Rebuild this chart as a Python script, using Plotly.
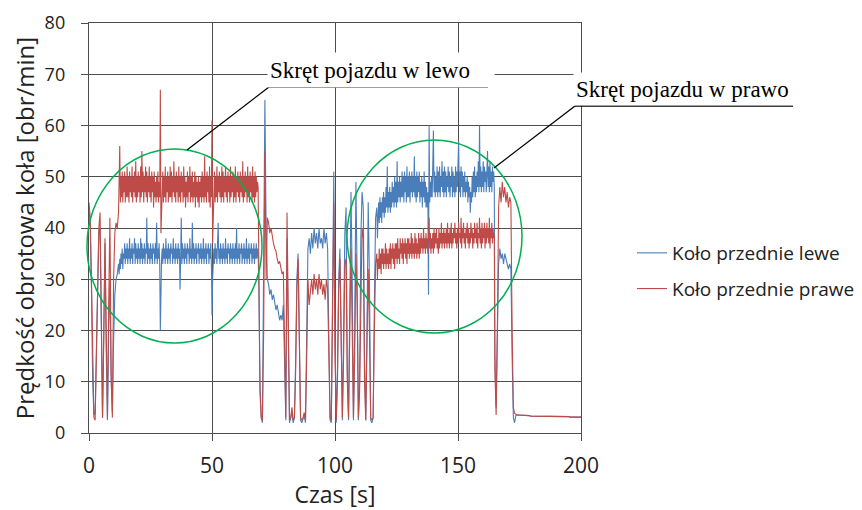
import plotly.graph_objects as go

# ---------------- data ----------------
# Each block: start time [s], sampling step [s], values. Blue = left wheel, red = right wheel.
START_T0, START_STEP = 0.0, 0.5
red_start = [45, 42, 30, 12, 3, 2.5, 14, 30, 40, 43, 22, 3, 18, 38, 20, 3, 25, 42, 12, 3, 30, 39, 41, 40, 43]
blue_start = [44, 40, 28, 10, 3.5, 4, 16, 31, 39, 40, 18, 3, 20, 37, 16, 2.5, 20, 30, 10, 4, 18, 27, 30, 31, 33]

LEFT_T0, LEFT_STEP = 12.25, 0.25
red_left_turn = [
    52, 56, 45, 50, 46, 51, 45, 50, 47, 51,
    45, 50, 46, 52, 46, 50, 45, 51, 47, 50,
    46, 52, 45, 50, 47, 51, 46, 53, 45, 50,
    46, 51, 47, 50, 45, 52, 46, 55, 47, 51,
    45, 50, 47, 52, 46, 51, 45, 50, 47, 52,
    46, 50, 45, 51, 47, 50, 44, 51, 46, 49,
    45, 50, 46, 51, 45, 49, 46, 67, 39, 44,
    47, 51, 45, 50, 46, 52, 45, 50, 47, 51,
    45, 50, 46, 52, 46, 51, 45, 50, 47, 53,
    46, 50, 45, 51, 47, 50, 45, 52, 46, 50,
    45, 51, 47, 50, 45, 52, 46, 50, 44, 49,
    46, 51, 45, 50, 47, 52, 45, 50, 46, 51,
    45, 49, 46, 51, 44, 50, 46, 49, 45, 50,
    44, 49, 46, 50, 45, 51, 46, 50, 45, 54,
    46, 50, 45, 51, 47, 50, 45, 52, 44, 50,
    46, 61, 37, 43, 47, 51, 45, 50, 46, 52,
    45, 50, 47, 51, 46, 50, 45, 52, 46, 51,
    45, 50, 47, 52, 46, 50, 45, 51, 47, 50,
    45, 52, 46, 50, 47, 51, 45, 50, 46, 52,
    45, 50, 47, 51, 46, 50, 45, 51, 47, 50,
    46, 53, 45, 50, 46, 51, 47, 50, 45, 52,
    46, 50, 45, 51, 47, 50, 45, 52, 46, 50,
    45, 51, 46, 50, 47, 49, 48]
blue_left_turn = [
    31, 34, 32, 35, 33, 36, 32, 35, 34, 37,
    33, 36, 34, 37, 33, 36, 34, 38, 33, 36,
    34, 37, 33, 36, 35, 38, 33, 37, 34, 36,
    33, 37, 34, 36, 33, 38, 34, 37, 33, 36,
    34, 37, 33, 36, 35, 42, 33, 37, 34, 36,
    33, 37, 34, 36, 33, 37, 35, 36, 33, 37,
    34, 41, 33, 36, 34, 37, 33, 20, 30, 34,
    36, 33, 37, 34, 36, 33, 38, 34, 36, 33,
    37, 34, 36, 33, 37, 35, 36, 33, 38, 34,
    36, 33, 37, 34, 36, 33, 37, 34, 36, 28,
    34, 42, 33, 37, 34, 36, 33, 37, 34, 36,
    33, 37, 35, 36, 33, 38, 34, 36, 33, 41,
    34, 37, 33, 36, 34, 37, 33, 36, 35, 37,
    33, 36, 34, 37, 33, 36, 34, 38, 33, 36,
    34, 37, 33, 36, 35, 37, 33, 36, 34, 37,
    33, 23, 30, 34, 36, 33, 37, 34, 36, 33,
    37, 41, 34, 36, 33, 37, 34, 36, 33, 37,
    34, 36, 33, 38, 34, 36, 33, 37, 35, 36,
    33, 37, 34, 36, 33, 37, 34, 36, 33, 37,
    34, 40, 33, 36, 34, 37, 33, 36, 35, 37,
    33, 36, 34, 37, 33, 36, 34, 38, 33, 36,
    34, 37, 33, 36, 35, 37, 33, 36, 34, 37,
    33, 36, 34, 37, 34, 36, 35]

MID_T0, MID_STEP = 69.0, 0.5
red_middle = [
    30, 8, 3, 2.5, 20, 55, 30, 42, 41, 39,
    40, 38, 37, 36, 35.5, 34, 33, 33.5, 32, 31,
    31.5, 15, 3, 43, 20, 2.5, 3, 5, 2.5, 3,
    12, 28, 34, 20, 3, 2.5, 3, 4, 2.5, 15,
    30, 25, 28, 30, 27, 31, 28, 30, 27, 31,
    28, 30, 27, 29, 26, 30, 28, 15, 3, 2.5,
    20, 45, 15, 2.5, 10, 28, 34, 12, 3, 15,
    33, 34, 10, 3, 20, 36, 20, 3, 15, 35,
    25, 3, 8, 30, 40, 38, 10, 2.5, 15, 32,
    20, 3, 2.5, 3, 20, 33, 35]
blue_middle = [
    30, 10, 3, 2, 30, 65, 40, 30, 29, 27,
    28, 26, 27, 25, 24, 25, 23, 22, 23, 22,
    25, 12, 2.5, 38, 15, 2, 3, 4, 2, 3,
    14, 30, 35, 18, 2.5, 2, 3, 3.5, 2, 20,
    36, 38, 35, 39, 36, 40, 37, 39, 36, 40,
    37, 38, 36, 40, 37, 39, 36, 18, 2.5, 2,
    25, 51, 20, 2, 12, 30, 36, 14, 2.5, 20,
    39, 44, 12, 2.5, 25, 47, 30, 2.5, 20, 49,
    30, 2.5, 10, 38, 47, 44, 15, 2.5, 20, 45,
    30, 2.5, 2, 3, 25, 42, 44]

RIGHT_T0, RIGHT_STEP = 117.25, 0.25
red_right_turn = [
    30, 34, 32, 36, 32, 35, 31, 36, 33, 36,
    32, 35, 33, 37, 32, 36, 33, 35, 32, 36,
    33, 37, 32, 36, 34, 37, 33, 36, 32, 37,
    34, 37, 33, 38, 34, 36, 33, 38, 35, 37,
    34, 38, 33, 37, 35, 38, 34, 37, 33, 38,
    35, 38, 34, 37, 35, 39, 34, 38, 35, 37,
    34, 39, 35, 38, 34, 37, 35, 39, 34, 38,
    35, 39, 36, 38, 35, 40, 36, 38, 35, 39,
    36, 38, 35, 39, 42, 36, 39, 35, 38, 36,
    39, 35, 40, 36, 39, 37, 40, 36, 38, 35,
    40, 36, 39, 37, 41, 36, 39, 37, 40, 36,
    39, 37, 40, 36, 41, 37, 39, 36, 40, 37,
    41, 36, 39, 37, 40, 38, 41, 37, 39, 36,
    40, 37, 41, 38, 39, 37, 42, 36, 40, 38,
    41, 37, 39, 36, 40, 38, 41, 37, 40, 36,
    39, 37, 41, 38, 40, 36, 39, 37, 41, 38,
    40, 37, 41, 36, 39, 38, 42, 37, 40, 36,
    41, 37, 40, 38, 41, 36, 40, 37, 41, 38,
    40, 37, 42, 36, 40, 38, 41, 37, 40, 38,
    39]
blue_right_turn = [
    38, 42, 45, 41, 46, 42, 45, 41, 46, 43,
    47, 42, 46, 43, 48, 44, 52, 43, 47, 44,
    48, 43, 47, 44, 49, 45, 48, 44, 50, 45,
    49, 44, 53, 45, 49, 46, 50, 45, 49, 46,
    51, 46, 50, 45, 51, 47, 50, 45, 52, 46,
    50, 46, 51, 45, 50, 47, 51, 46, 50, 47,
    54, 46, 50, 45, 51, 46, 50, 47, 51, 45,
    49, 46, 50, 44, 49, 46, 51, 45, 49, 44,
    48, 44, 47, 27, 60, 45, 49, 46, 50, 46,
    51, 59, 47, 51, 46, 50, 47, 52, 46, 51,
    47, 52, 46, 50, 48, 53, 47, 51, 46, 52,
    47, 51, 46, 50, 48, 52, 47, 51, 46, 50,
    48, 52, 46, 51, 47, 50, 46, 52, 47, 51,
    48, 53, 57, 47, 51, 46, 52, 48, 51, 46,
    50, 47, 51, 46, 49, 47, 50, 45, 49, 46,
    48, 43, 47, 45, 50, 46, 51, 47, 52, 46,
    50, 47, 51, 48, 53, 47, 60, 48, 52, 47,
    51, 48, 53, 47, 52, 49, 51, 47, 53, 55,
    48, 52, 47, 53, 48, 51, 47, 52, 49, 51,
    48]

END_T0, END_STEP = 165.0, 0.5
red_end = [12, 3.5, 20, 44, 48, 45, 49, 46, 48, 45, 47, 44, 46, 45, 20, 5, 3.8, 3.6]
blue_end = [15, 5, 20, 33, 36, 34, 35, 33, 35, 34, 33, 32, 33, 32, 15, 3, 2, 3.4]

TAIL_T0, TAIL_STEP = 174.0, 0.5
tail_stop = [
    3.5, 3.5, 3.5, 3.4, 3.4, 3.4, 3.4, 3.4, 3.4, 3.4,
    3.4, 3.3, 3.3, 3.3, 3.3, 3.3, 3.3, 3.3, 3.3, 3.3,
    3.3, 3.3, 3.3, 3.3, 3.3, 3.2, 3.2, 3.2, 3.2, 3.2,
    3.2, 3.2, 3.2, 3.2, 3.2, 3.2, 3.2, 3.2, 3.2, 3.2,
    3.2, 3.2, 3.2, 3.1, 3.1, 3.1, 3.1, 3.1, 3.1, 3.1,
    3.1, 3.1, 3.1]

blocks = [
    (START_T0, START_STEP, blue_start, red_start),
    (LEFT_T0, LEFT_STEP, blue_left_turn, red_left_turn),
    (MID_T0, MID_STEP, blue_middle, red_middle),
    (RIGHT_T0, RIGHT_STEP, blue_right_turn, red_right_turn),
    (END_T0, END_STEP, blue_end, red_end),
    (TAIL_T0, TAIL_STEP, tail_stop, tail_stop),
]
time_s, left_wheel, right_wheel = [], [], []
for t0, step, b, r in blocks:
    assert len(b) == len(r), (t0, len(b), len(r))
    time_s += [t0 + i * step for i in range(len(b))]
    left_wheel += b
    right_wheel += r
assert abs(time_s[-1] - 200) < 1e-9, time_s[-1]

x_ticks = [0, 50, 100, 150, 200]
y_ticks = [0, 10, 20, 30, 40, 50, 60, 70, 80]
series_names = ["Koło przednie lewe", "Koło przednie prawe"]
label_left = "Skręt pojazdu w lewo"
label_right = "Skręt pojazdu w prawo"

# ---------------- layout helpers (page pixels; the page body has an 8 px margin) ----------------
OFF = 8
PAGE_W, PAGE_H = 862, 510
W, H = PAGE_W - OFF, PAGE_H - OFF
PL, PR, PT, PB = 89, 581, 23, 433  # plot area in page pixels


def px(xp):
    return (xp - PL) / (PR - PL)


def py(yp):
    return (PB - yp) / (PB - PT)


SANS = "Open Sans"
SERIF = "Liberation Serif, Times New Roman, serif"
GRID = "#4d4d4d"
TXT = "#222222"

fig = go.Figure()
fig.add_trace(go.Scatter(x=time_s, y=left_wheel, mode="lines", name=series_names[0],
                         line=dict(color="#4a7ebb", width=1.1), legendgroup="a"))
fig.add_trace(go.Scatter(x=time_s, y=right_wheel, mode="lines", name=series_names[1],
                         line=dict(color="#be4b48", width=1.1), legendgroup="b"))

shapes = []
# green ellipses
shapes.append(dict(type="circle", xref="paper", yref="paper",
                   x0=px(87), x1=px(262), y0=py(343), y1=py(149),
                   line=dict(color="#00b050", width=1.5)))
shapes.append(dict(type="circle", xref="paper", yref="paper",
                   x0=px(347), x1=px(522), y0=py(333), y1=py(140),
                   line=dict(color="#00b050", width=1.5)))
# callout lines
for (xa, ya, xb, yb) in [(268, 87, 488, 87), (269, 87, 187, 150),
                         (575, 106, 793, 106), (575, 106, 494, 168)]:
    shapes.append(dict(type="line", xref="paper", yref="paper",
                       x0=px(xa), y0=py(ya), x1=px(xb), y1=py(yb),
                       line=dict(color="black", width=1.3)))

annotations = [
    dict(text=label_left, xref="paper", yref="paper", x=px(267), y=py(70),
         xanchor="left", yanchor="middle", showarrow=False, align="left",
         width=222, height=30, bgcolor="white", borderpad=2,
         font=dict(family=SERIF, size=23, color="black")),
    dict(text=label_right, xref="paper", yref="paper", x=px(573), y=py(89),
         xanchor="left", yanchor="middle", showarrow=False, align="left",
         width=226, height=28, bgcolor="white", borderpad=2,
         font=dict(family=SERIF, size=23, color="black")),
]

fig.update_layout(
    width=W, height=H,
    margin=dict(l=PL - OFF, r=PAGE_W - PR, t=PT - OFF, b=PAGE_H - PB, autoexpand=False),
    paper_bgcolor="white", plot_bgcolor="white",
    font=dict(family=SANS, color=TXT),
    shapes=shapes, annotations=annotations,
    showlegend=True,
    legend=dict(x=px(632), y=py(234), xanchor="left", yanchor="top",
                font=dict(family=SANS, size=19, color=TXT),
                tracegroupgap=8, bgcolor="rgba(0,0,0,0)"),
)
fig.update_xaxes(range=[0, 200], tickvals=x_ticks, showgrid=True, gridcolor=GRID, gridwidth=1.4,
                 showline=True, linecolor=GRID, linewidth=1.4, mirror=True,
                 ticks="outside", ticklen=7, tickcolor=GRID, tickwidth=1.4,
                 zeroline=False, tickfont=dict(size=21, color=TXT),
                 ticklabelstandoff=7,
                 title=dict(text="Czas [s]", font=dict(size=23, color=TXT), standoff=6))
fig.update_yaxes(range=[0, 80], tickvals=y_ticks, showgrid=True, gridcolor=GRID, gridwidth=1.4,
                 showline=True, linecolor=GRID, linewidth=1.4, mirror=True,
                 ticks="outside", ticklen=7, tickcolor=GRID, tickwidth=1.4,
                 zeroline=False, tickfont=dict(size=18, color=TXT),
                 ticklabelstandoff=12,
                 title=dict(text="Prędkość obrotowa koła [obr/min]", font=dict(size=24, color=TXT),
                            standoff=4))

fig.write_html("out.html")
